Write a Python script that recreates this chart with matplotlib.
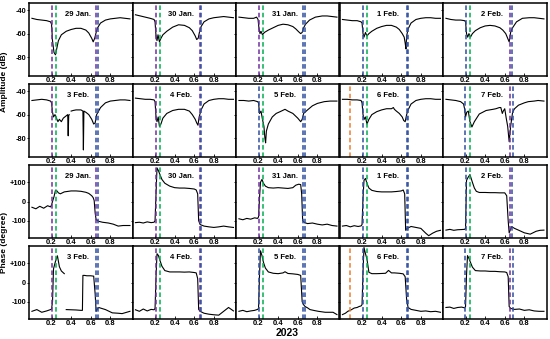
import numpy as np
import matplotlib
matplotlib.use("Agg")
import matplotlib.pyplot as plt

nan = np.nan
dates = ["29 Jan.", "30 Jan.", "31 Jan.", "1 Feb.", "2 Feb.",
         "3 Feb.", "4 Feb.", "5 Feb.", "6 Feb.", "7 Feb."]

# ---------------- Amplitude (dB) ----------------
amp_x_29jan = [0.00,0.05,0.10,0.15,0.19,0.200,0.210,0.225,0.240,0.255,0.270,0.30,0.35,0.40,0.45,0.50,0.55,0.58,0.61,0.625,0.640,0.655,0.67,0.70,0.75,0.80,0.85,0.90,0.95,1.00]
amp_y_29jan = [-47,-48,-48.5,-49,-50,-52,-66,-76,-78,-72,-66,-61,-58,-56.5,-55.5,-55.5,-57,-59.5,-64,-67,-64,-59,-55,-51,-48.5,-47.5,-47,-46.5,-47,-47.5]
amp_x_30jan = [0.00,0.05,0.10,0.15,0.19,0.200,0.210,0.220,0.230,0.245,0.260,0.28,0.32,0.38,0.44,0.50,0.55,0.58,0.61,0.625,0.640,0.655,0.67,0.70,0.75,0.80,0.85,0.90,0.95,1.00]
amp_y_30jan = [-44,-45,-46,-47,-48,-50,-62,-66,-61,-67,-64,-61,-58,-54.5,-52.5,-53,-55,-57.5,-62,-65,-64,-58,-54,-50,-47.5,-46.5,-46,-45.5,-46,-46.5]
amp_x_31jan = [0.00,0.05,0.10,0.15,0.18,0.195,0.205,0.215,0.225,0.24,0.26,0.30,0.35,0.40,0.45,0.50,0.55,0.58,0.61,0.63,0.645,0.66,0.68,0.72,0.78,0.85,0.90,0.95,1.00]
amp_y_31jan = [-46,-46.5,-47,-47,-46,-48,-56,-60,-58,-61,-59,-57,-55,-53,-52,-52.5,-54,-56,-58.5,-60,-59,-55,-52,-48.5,-46,-45,-45,-45.5,-46]
amp_x_1feb = [0.00,0.05,0.10,0.15,0.19,0.200,0.210,0.220,0.235,0.25,0.27,0.30,0.35,0.40,0.45,0.50,0.55,0.58,0.61,0.63,0.640,0.648,0.655,0.67,0.70,0.75,0.80,0.85,0.90,0.95,1.00]
amp_y_1feb = [-48,-48.5,-49,-49,-50,-51,-60,-63,-59,-62,-60,-58,-55.5,-54,-53,-53,-54.5,-56.5,-60,-63,-68,-73,-62,-56,-51,-48,-47,-46.5,-46.5,-47,-47]
amp_x_2feb = [0.00,0.05,0.10,0.15,0.19,0.200,0.210,0.222,0.235,0.25,0.27,0.30,0.35,0.40,0.45,0.50,0.55,0.58,0.61,0.63,0.645,0.66,0.68,0.72,0.78,0.85,0.90,0.95,1.00]
amp_y_2feb = [-47,-48,-48.5,-48.5,-49,-50,-60,-63,-60,-63,-60,-57.5,-55,-53.5,-53,-53.5,-55,-57,-60,-64,-67,-59,-55,-50,-47,-46.5,-46.5,-47,-47.5]
amp_x_3feb = [0.00,0.05,0.10,0.15,0.19,0.200,0.210,0.220,0.235,0.250,0.265,0.280,0.300,0.320,0.350,0.365,0.370,0.375,0.380,0.390,0.400,0.420,0.450,0.500,0.520,0.525,0.530,0.550,0.580,0.610,0.630,0.645,0.660,0.700,0.750,0.800,0.850,0.900,0.950,1.000]
amp_y_3feb = [-48,-47.5,-47,-47.5,-48.5,-50,-58,-62,-60,-63,-66,-64,-66,-63,-61,-60,-78,-61,-60,nan,-57,-56.5,-56,-56,-57,-90,-57,-58,-60,-64,-68,-67,-60,-54,-50,-48.5,-48,-47.5,-47.5,-48]
amp_x_4feb = [0.00,0.05,0.10,0.15,0.19,0.200,0.210,0.220,0.232,0.245,0.26,0.28,0.32,0.38,0.44,0.50,0.55,0.58,0.61,0.625,0.638,0.65,0.67,0.70,0.75,0.80,0.85,0.90,0.95,1.00]
amp_y_4feb = [-46,-46.5,-47,-47,-47.5,-49,-62,-66,-62,-70,-68,-63,-59,-56.5,-55.5,-55.5,-57,-60,-64,-67,-69,-62,-56,-51,-48,-47,-46.5,-46.5,-47,-47]
amp_x_5feb = [0.00,0.05,0.10,0.15,0.19,0.200,0.210,0.225,0.240,0.255,0.265,0.272,0.280,0.30,0.34,0.38,0.42,0.47,0.50,0.55,0.60,0.63,0.645,0.66,0.70,0.75,0.80,0.87,0.93,1.00]
amp_y_5feb = [-48,-48,-48.5,-48,-49,-50,-59,-57,-64,-70,-80,-84,-74,-68,-62,-59,-57.5,-55.5,-57,-59,-63,-66,-64,-59,-56,-52.5,-50.5,-49,-48.5,-48.5]
amp_x_6feb = [0.00,0.05,0.10,0.15,0.19,0.200,0.210,0.222,0.235,0.25,0.27,0.30,0.35,0.40,0.45,0.50,0.52,0.53,0.55,0.58,0.61,0.625,0.64,0.655,0.67,0.70,0.75,0.80,0.85,0.90,0.95,1.00]
amp_y_6feb = [-47,-47,-47.5,-47.5,-48,-50,-60,-64,-62,-68,-64,-60,-57.5,-56,-55,-55,-54,-55.5,-57,-59,-62,-65,-66,-60,-56,-51,-48,-47,-46.5,-46.5,-47,-47]
amp_x_7feb = [0.00,0.05,0.10,0.15,0.18,0.190,0.200,0.212,0.228,0.245,0.265,0.29,0.34,0.41,0.48,0.51,0.545,0.56,0.575,0.585,0.60,0.615,0.63,0.645,0.66,0.68,0.70,0.74,0.80,0.84,0.90,0.94,1.00]
amp_y_7feb = [-47,-47.5,-48,-49,-51,-55,-62,-58,-57,-66,-70.5,-66,-59.5,-56.5,-55.5,-55,-54,-54,-59,-57,-55,-63,-70,-83,-70,-58,-55,-52,-50,-49,-48.5,-48,-48.5]

# ---------------- Phase (degree) ----------------
ph_x_29jan = [0.00,0.04,0.08,0.12,0.16,0.19,0.200,0.210,0.225,0.240,0.255,0.27,0.29,0.33,0.40,0.45,0.50,0.55,0.58,0.61,0.625,0.635,0.645,0.655,0.68,0.72,0.78,0.83,0.88,0.93,1.00]
ph_y_29jan = [-30,-38,-25,-35,-22,-28,-18,0,25,58,55,45,40,50,55,55,53,48,42,30,20,5,-60,-95,-103,-108,-112,-118,-128,-125,-125]
ph_x_30jan = [0.00,0.04,0.08,0.12,0.16,0.19,0.200,0.210,0.220,0.235,0.25,0.27,0.30,0.35,0.40,0.45,0.50,0.55,0.60,0.62,0.635,0.645,0.66,0.70,0.75,0.80,0.85,0.90,0.95,1.00]
ph_y_30jan = [-110,-108,-112,-106,-110,-108,-100,40,175,160,140,115,95,80,72,70,70,68,65,60,40,-100,-120,-128,-132,-135,-132,-128,-132,-135]
ph_x_31jan = [0.00,0.04,0.08,0.12,0.16,0.19,0.200,0.210,0.220,0.235,0.25,0.27,0.30,0.35,0.40,0.45,0.50,0.55,0.58,0.61,0.63,0.64,0.65,0.67,0.70,0.75,0.80,0.85,0.90,0.95,1.00]
ph_y_31jan = [-90,-95,-88,-92,-85,-88,-80,20,100,115,95,80,72,70,72,70,68,72,85,90,88,40,-100,-110,-115,-112,-118,-122,-118,-125,-128]
ph_x_1feb = [0.00,0.04,0.08,0.12,0.16,0.19,0.200,0.210,0.220,0.235,0.25,0.27,0.30,0.35,0.40,0.45,0.50,0.55,0.60,0.62,0.635,0.645,0.66,0.70,0.75,0.80,0.85,0.88,0.92,0.96,1.00]
ph_y_1feb = [-128,-125,-132,-126,-130,-127,-120,20,110,120,95,70,58,52,50,50,50,52,55,60,40,-150,-140,-130,-135,-140,-165,-178,-165,-155,-150]
ph_x_2feb = [0.00,0.04,0.08,0.12,0.16,0.19,0.200,0.210,0.225,0.245,0.27,0.29,0.31,0.34,0.40,0.45,0.50,0.55,0.60,0.62,0.635,0.645,0.67,0.70,0.74,0.80,0.86,0.92,0.96,1.00]
ph_y_2feb = [-149,-145,-150,-147,-146,-145,-140,110,125,140,100,70,53,47,47,46,46,45,45,30,-100,-163,-131,-140,-149,-163,-170,-155,-150,-149]
ph_x_3feb = [0.00,0.05,0.10,0.15,0.19,0.200,0.210,0.220,0.240,0.260,0.28,0.30,0.33,0.34,0.35,0.40,0.45,0.50,0.515,0.520,0.535,0.56,0.60,0.63,0.645,0.655,0.665,0.68,0.75,0.82,0.88,0.92,1.00]
ph_y_3feb = [-150,-141,-155,-148,-141,-138,-100,71,110,139,82,60,46,nan,-141,-142,-143,-145,-145,37,37,35,35,33,-60,-150,-140,-130,-141,-158,-160,-162,-150]
ph_x_4feb = [0.00,0.04,0.08,0.12,0.16,0.19,0.200,0.210,0.220,0.235,0.25,0.27,0.30,0.35,0.40,0.45,0.50,0.55,0.60,0.62,0.635,0.645,0.66,0.70,0.75,0.80,0.85,0.90,0.95,1.00]
ph_y_4feb = [-142,-150,-138,-148,-140,-142,-135,30,150,140,115,85,62,55,55,55,54,55,52,50,20,-140,-150,-160,-165,-168,-170,-150,-130,-148]
ph_x_5feb = [0.00,0.04,0.08,0.12,0.16,0.19,0.200,0.210,0.220,0.235,0.25,0.27,0.30,0.35,0.40,0.45,0.47,0.50,0.55,0.60,0.63,0.645,0.66,0.675,0.70,0.725,0.77,0.81,0.88,0.96,1.00]
ph_y_5feb = [-150,-145,-152,-148,-145,-140,-135,40,165,140,105,75,55,48,46,50,56,47,45,42,37,-100,-116,-125,-132,-141,-146,-150,-155,-155,-167]
ph_x_6feb = [0.00,0.03,0.055,0.09,0.12,0.15,0.17,0.19,0.200,0.210,0.220,0.235,0.25,0.27,0.30,0.35,0.40,0.44,0.47,0.50,0.53,0.58,0.62,0.64,0.655,0.67,0.70,0.75,0.80,0.85,0.90,0.95,1.00]
ph_y_6feb = [-167,-160,-150,-142,-133,-130,-125,-122,-115,60,182,150,122,53,46,46,47,48,63,50,50,48,45,30,-90,-130,-140,-145,-150,-148,-152,-150,-155]
ph_x_7feb = [0.00,0.04,0.08,0.12,0.16,0.19,0.200,0.210,0.220,0.235,0.25,0.27,0.30,0.35,0.40,0.45,0.50,0.55,0.60,0.62,0.635,0.645,0.66,0.70,0.75,0.80,0.85,0.90,0.95,1.00]
ph_y_7feb = [-130,-128,-135,-130,-128,-132,-125,40,140,125,105,80,62,60,60,58,58,56,55,52,30,-125,-135,-140,-138,-145,-142,-148,-150,-150]

# vertical dashed markers per date (position, colour key)
vl_29jan = [(0.205, "P"), (0.25, "G"), (0.655, "P"), (0.672, "B")]
vl_30jan = [(0.205, "P"), (0.25, "G"), (0.655, "P"), (0.672, "B")]
vl_31jan = [(0.205, "P"), (0.25, "G"), (0.655, "B"), (0.672, "B")]
vl_1feb  = [(0.205, "B"), (0.25, "G"), (0.655, "B"), (0.672, "B")]
vl_2feb  = [(0.205, "B"), (0.25, "G"), (0.655, "P"), (0.672, "B")]
vl_3feb  = [(0.205, "P"), (0.25, "G"), (0.655, "B"), (0.672, "B")]
vl_4feb  = [(0.205, "P"), (0.25, "G"), (0.655, "P"), (0.672, "B")]
vl_5feb  = [(0.205, "B"), (0.25, "G"), (0.655, "B"), (0.672, "B")]
vl_6feb  = [(0.08, "O"), (0.205, "B"), (0.25, "G"), (0.655, "B"), (0.672, "B")]
vl_7feb  = [(0.195, "B"), (0.25, "G"), (0.655, "P"), (0.68, "B")]

colors = {"P": "#7030A0", "G": "#00B050", "B": "#2F4F9F", "O": "#ED7D31"}

amp_x = [amp_x_29jan, amp_x_30jan, amp_x_31jan, amp_x_1feb, amp_x_2feb,
         amp_x_3feb, amp_x_4feb, amp_x_5feb, amp_x_6feb, amp_x_7feb]
amp_y = [amp_y_29jan, amp_y_30jan, amp_y_31jan, amp_y_1feb, amp_y_2feb,
         amp_y_3feb, amp_y_4feb, amp_y_5feb, amp_y_6feb, amp_y_7feb]
ph_x = [ph_x_29jan, ph_x_30jan, ph_x_31jan, ph_x_1feb, ph_x_2feb,
        ph_x_3feb, ph_x_4feb, ph_x_5feb, ph_x_6feb, ph_x_7feb]
ph_y = [ph_y_29jan, ph_y_30jan, ph_y_31jan, ph_y_1feb, ph_y_2feb,
        ph_y_3feb, ph_y_4feb, ph_y_5feb, ph_y_6feb, ph_y_7feb]
vlines = [vl_29jan, vl_30jan, vl_31jan, vl_1feb, vl_2feb,
          vl_3feb, vl_4feb, vl_5feb, vl_6feb, vl_7feb]

x_ticks = [0.2, 0.4, 0.6, 0.8]
amp_ticks = [-40, -60, -80]
amp_labels = ["-40", "-60", "-80"]
ph_ticks = [100, 0, -100]
ph_labels = ["+100", "0", "-100"]

plt.rcParams["font.family"] = ["Liberation Sans", "DejaVu Sans"]
plt.rcParams["font.weight"] = "bold"

W, H = 550, 339
fig = plt.figure(figsize=(W / 100, H / 100), dpi=100)

left0 = 29.0
colw = 103.5
row_tops = [3, 84, 165, 246]
rowh = 73.0

for r in range(4):
    for c in range(5):
        kind = "amp" if r < 2 else "ph"
        d = (r % 2) * 5 + c
        ax = fig.add_axes([(left0 + c * colw) / W, 1 - (row_tops[r] + rowh) / H,
                           colw / W, rowh / H])
        if kind == "amp":
            ax.plot(amp_x[d], amp_y[d], color="black", lw=0.8)
            ax.set_ylim(-96, -34)
            ax.set_yticks(amp_ticks)
            ax.set_yticklabels(amp_labels if c == 0 else [])
        else:
            ax.plot(ph_x[d], ph_y[d], color="black", lw=0.8)
            ax.set_ylim(-190, 190)
            ax.set_yticks(ph_ticks)
            ax.set_yticklabels(ph_labels if c == 0 else [])
        for xv, ck in vlines[d]:
            ax.axvline(xv, color=colors[ck], lw=1.1, ls=(0, (3, 1.8)))
        ax.set_xlim(-0.03, 1.026)
        ax.set_xticks(x_ticks)
        ax.set_xticklabels(["0.2", "0.4", "0.6", "0.8"])
        ax.tick_params(axis="x", direction="in", length=2, width=0.6,
                       labelsize=5.5, pad=1.0)
        ax.tick_params(axis="y", direction="out", length=1.5, width=0.6,
                       labelsize=5.3, pad=0.5)
        for s in ax.spines.values():
            s.set_linewidth(1.1)
        ax.text(0.47, 0.84, dates[d], transform=ax.transAxes, ha="center",
                va="center", fontsize=5.5, fontweight="bold")

fig.text(5 / W, 1 - 82 / H, "Amplitude (dB)", rotation=90, ha="center",
         va="center", fontsize=6, fontweight="bold")
fig.text(5 / W, 1 - 242 / H, "Phase (degree)", rotation=90, ha="center",
         va="center", fontsize=6, fontweight="bold")
fig.text(287 / W, 1 - 333 / H, "2023", ha="center", va="center",
         fontsize=7.5, fontweight="bold")

fig.savefig("out.png", dpi=100)
